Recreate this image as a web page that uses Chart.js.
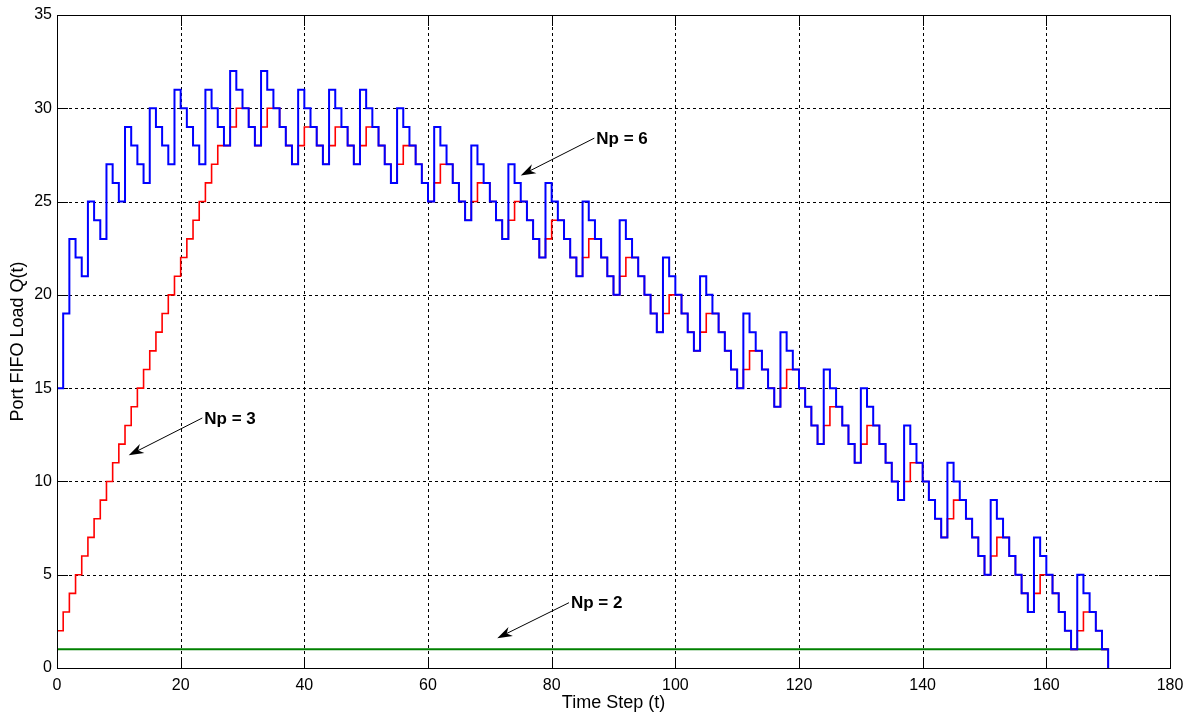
<!DOCTYPE html>
<html>
<head>
<meta charset="utf-8">
<script src="https://cdn.jsdelivr.net/npm/chart.js@4.4.1/dist/chart.umd.min.js"></script>
<style>
  body { margin: 0; background: #fff; }
  canvas { display: block; }
</style>
</head>
<body>
<canvas id="chart" width="1194" height="715"></canvas>
<script>
// queue length per time step (t = 0, 1, 2, ...)
const blueQ = [
  15, 19, 23, 22, 21,
  25, 24, 23,
  27, 26, 25,
  29, 28, 27, 26,
  30, 29, 28, 27,
  31, 30, 29, 28, 27,
  31, 30, 29, 28,
  32, 31, 30, 29, 28,
  32, 31, 30, 29, 28, 27,
  31, 30, 29, 28, 27,
  31, 30, 29, 28, 27,
  31, 30, 29, 28, 27, 26,
  30, 29, 28, 27, 26, 25,
  29, 28, 27, 26, 25, 24,
  28, 27, 26, 25, 24, 23,
  27, 26, 25, 24, 23, 22,
  26, 25, 24, 23, 22, 21,
  25, 24, 23, 22, 21, 20,
  24, 23, 22, 21, 20, 19, 18,
  22, 21, 20, 19, 18, 17,
  21, 20, 19, 18, 17, 16, 15,
  19, 18, 17, 16, 15, 14,
  18, 17, 16, 15, 14, 13, 12,
  16, 15, 14, 13, 12, 11,
  15, 14, 13, 12, 11, 10, 9,
  13, 12, 11, 10, 9, 8, 7,
  11, 10, 9, 8, 7, 6, 5,
  9, 8, 7, 6, 5, 4, 3,
  7, 6, 5, 4, 3, 2, 1,
  5, 4, 3, 2, 1, 0
];

const redQ = [
  2, 3, 4, 5, 6,
  7, 8, 9,
  10, 11, 12,
  13, 14, 15, 16,
  17, 18, 19, 20,
  21, 22, 23, 24, 25,
  26, 27, 28, 28,
  29, 30, 30, 29, 28,
  29, 30, 30, 29, 28, 27,
  28, 29, 29, 28, 27,
  28, 29, 29, 28, 27,
  28, 29, 29, 28, 27, 26,
  27, 28, 28, 27, 26, 25,
  26, 27, 27, 26, 25, 24,
  25, 26, 26, 25, 24, 23,
  24, 25, 25, 24, 23, 22,
  23, 24, 24, 23, 22, 21,
  22, 23, 23, 22, 21, 20,
  21, 22, 22, 21, 20, 19, 18,
  19, 20, 20, 19, 18, 17,
  18, 19, 19, 18, 17, 16, 15,
  16, 17, 17, 16, 15, 14,
  15, 16, 16, 15, 14, 13, 12,
  13, 14, 14, 13, 12, 11,
  12, 13, 13, 12, 11, 10, 9,
  10, 11, 11, 10, 9, 8, 7,
  8, 9, 9, 8, 7, 6, 5,
  6, 7, 7, 6, 5, 4, 3,
  4, 5, 5, 4, 3, 2, 1,
  2, 3, 3, 2, 1, 0
];

const greenT = [0, 170];
const greenQ = [1, 1];

const xTicks = [0, 20, 40, 60, 80, 100, 120, 140, 160, 180];
const yTicks = [0, 5, 10, 15, 20, 25, 30, 35];

// labels with arrows, in data units
const notes = [
  { text: "Np = 6", from: [86.9, 28.4], to: [75.0, 26.4] },
  { text: "Np = 3", from: [23.5, 13.4], to: [11.6, 11.4] },
  { text: "Np = 2", from: [82.8, 3.5], to: [71.2, 1.6] }
];

const FONT = "'Liberation Sans', Arial, sans-serif";

const toPoints = arr => arr.map((q, i) => ({ x: i, y: q }));

const axesPlugin = {
  id: "axesBox",
  beforeDatasetsDraw(chart) {
    const { ctx, chartArea: a, scales: { x, y } } = chart;
    ctx.save();
    ctx.strokeStyle = "#000";
    ctx.lineWidth = 1;
    // dotted grid
    ctx.setLineDash([3, 3]);
    ctx.beginPath();
    xTicks.slice(1, -1).forEach(v => {
      const px = Math.round(x.getPixelForValue(v)) + 0.5;
      ctx.moveTo(px, a.top);
      ctx.lineTo(px, a.bottom);
    });
    yTicks.slice(1, -1).forEach(v => {
      const py = Math.round(y.getPixelForValue(v)) + 0.5;
      ctx.moveTo(a.left, py);
      ctx.lineTo(a.right, py);
    });
    ctx.stroke();
    // inward tick marks on all four sides
    ctx.setLineDash([]);
    const len = 11;
    ctx.beginPath();
    xTicks.forEach(v => {
      const px = Math.round(x.getPixelForValue(v)) + 0.5;
      ctx.moveTo(px, a.bottom);
      ctx.lineTo(px, a.bottom - len);
      ctx.moveTo(px, a.top);
      ctx.lineTo(px, a.top + len);
    });
    yTicks.forEach(v => {
      const py = Math.round(y.getPixelForValue(v)) + 0.5;
      ctx.moveTo(a.left, py);
      ctx.lineTo(a.left + len, py);
      ctx.moveTo(a.right, py);
      ctx.lineTo(a.right - len, py);
    });
    ctx.stroke();
    ctx.restore();
  },
  afterDatasetsDraw(chart) {
    const { ctx, chartArea: a, scales: { x, y } } = chart;
    ctx.save();
    ctx.strokeStyle = "#000";
    ctx.lineWidth = 1;
    const l = Math.round(x.getPixelForValue(0)) + 0.5;
    const r = Math.round(x.getPixelForValue(180)) + 0.5;
    const t = Math.round(y.getPixelForValue(35)) + 0.5;
    const b = Math.round(y.getPixelForValue(0)) + 0.5;
    ctx.strokeRect(l, t, r - l, b - t);

    notes.forEach(n => {
      const x0 = x.getPixelForValue(n.from[0]), y0 = y.getPixelForValue(n.from[1]);
      const x1 = x.getPixelForValue(n.to[0]), y1 = y.getPixelForValue(n.to[1]);
      const ang = Math.atan2(y1 - y0, x1 - x0);
      const hl = 15, hw = 5;
      const bx = x1 - Math.cos(ang) * hl, by = y1 - Math.sin(ang) * hl;
      const nx = x1 - Math.cos(ang) * hl * 0.7, ny = y1 - Math.sin(ang) * hl * 0.7;
      ctx.beginPath();
      ctx.moveTo(x0, y0);
      ctx.lineTo(nx, ny);
      ctx.stroke();
      ctx.beginPath();
      ctx.moveTo(x1, y1);
      ctx.lineTo(bx - Math.sin(ang) * hw, by + Math.cos(ang) * hw);
      ctx.lineTo(nx, ny);
      ctx.lineTo(bx + Math.sin(ang) * hw, by - Math.cos(ang) * hw);
      ctx.closePath();
      ctx.fillStyle = "#000";
      ctx.fill();
      ctx.font = "bold 17px " + FONT;
      ctx.textAlign = "left";
      ctx.textBaseline = "middle";
      ctx.fillText(n.text, x0 + 2, y0 + 1);
    });
    ctx.restore();
  }
};

const line = (data, color, width, order) => ({
  data: data,
  borderColor: color,
  borderWidth: width,
  pointRadius: 0,
  stepped: true,
  fill: false,
  order: order
});

new Chart(document.getElementById("chart"), {
  type: "line",
  data: {
    datasets: [
      line(toPoints(blueQ), "#0000ff", 2, 0),
      line(toPoints(redQ), "#ff0000", 1.6, 1),
      line(greenT.map((t, i) => ({ x: t, y: greenQ[i] })), "#008000", 2, 2)
    ]
  },
  options: {
    responsive: false,
    animation: false,
    events: [],
    layout: { padding: { top: 15, right: 24, left: 0, bottom: 0 } },
    plugins: { legend: { display: false }, tooltip: { enabled: false } },
    scales: {
      x: {
        type: "linear",
        min: 0,
        max: 180,
        afterBuildTicks: s => { s.ticks = xTicks.map(v => ({ value: v })); },
        afterFit: s => { s.height = 47; },
        ticks: { padding: 8, color: "#000", font: { family: FONT, size: 16 } },
        grid: { display: false, drawTicks: false },
        border: { display: false },
        title: {
          display: true,
          text: "Time Step (t)",
          color: "#000",
          font: { family: FONT, size: 18 },
          padding: { top: 0, bottom: 1 }
        }
      },
      y: {
        type: "linear",
        min: 0,
        max: 35,
        afterBuildTicks: s => { s.ticks = yTicks.map(v => ({ value: v })); },
        afterFit: s => { s.width = 57; },
        ticks: { padding: 5, color: "#000", font: { family: FONT, size: 16 } },
        grid: { display: false, drawTicks: false },
        border: { display: false },
        title: {
          display: true,
          text: "Port FIFO Load Q(t)",
          color: "#000",
          font: { family: FONT, size: 18 },
          padding: { top: 7, bottom: 0 }
        }
      }
    }
  },
  plugins: [axesPlugin]
});
</script>
</body>
</html>
